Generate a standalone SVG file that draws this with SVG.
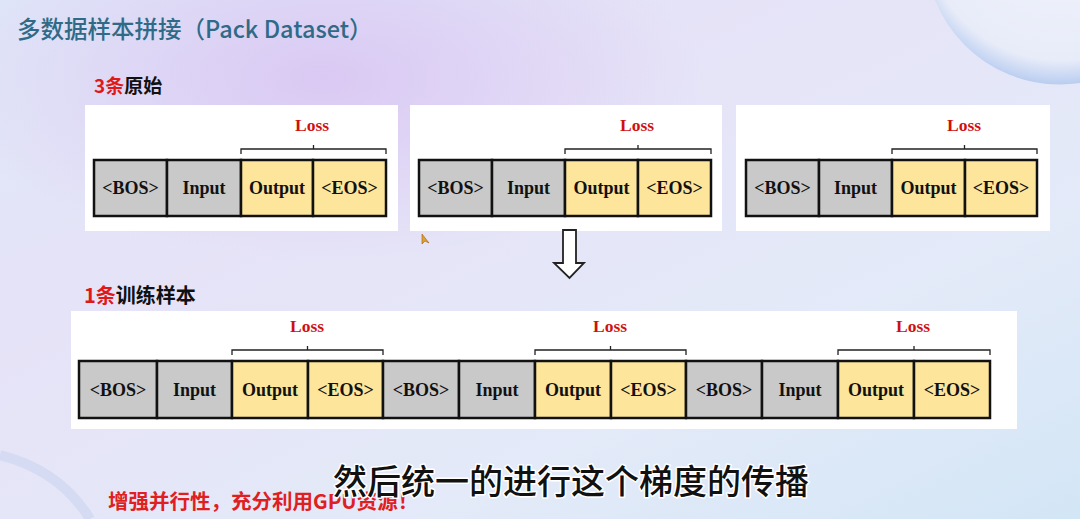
<svg xmlns="http://www.w3.org/2000/svg" width="1080" height="519" viewBox="0 0 1080 519">
<defs>
<linearGradient id="bg" x1="0" y1="0" x2="1" y2="1">
<stop offset="0" stop-color="#dfe6f8"/>
<stop offset="0.35" stop-color="#e6e3f7"/>
<stop offset="0.7" stop-color="#e3eaf8"/>
<stop offset="1" stop-color="#d3e6f6"/>
</linearGradient>
<radialGradient id="pink" cx="0.3" cy="0.15" r="0.35">
<stop offset="0" stop-color="#d9c6f3" stop-opacity="0.9"/>
<stop offset="1" stop-color="#d9c6f3" stop-opacity="0"/>
</radialGradient>
<radialGradient id="bubble" cx="0.5" cy="0.4" r="0.6">
<stop offset="0" stop-color="#f2f4fc"/>
<stop offset="0.85" stop-color="#e8ecf9"/>
<stop offset="1" stop-color="#b9cdf0"/>
</radialGradient>
<style>
.panel{fill:#ffffff}
.cell{stroke:#111;stroke-width:2.5}
.g{fill:#c9c9c9}
.y{fill:#fde59c}
.t{font-family:"Liberation Serif",serif;font-weight:bold;font-size:18px;fill:#111;text-anchor:middle}
.loss{font-family:"Liberation Serif",serif;font-weight:bold;font-size:17.5px;fill:#d01010;text-anchor:middle}
.br{fill:none;stroke:#222;stroke-width:1.3}
.cjk{font-family:"Noto Sans CJK SC","Noto Sans",sans-serif}
</style>
</defs>
<rect width="1080" height="519" fill="url(#bg)"/>
<rect width="1080" height="519" fill="url(#pink)"/>
<circle cx="1060" cy="-50" r="134.6" fill="url(#bubble)"/>
<path d="M0,455 Q60,470 90,519" fill="none" stroke="#c9d3ee" stroke-width="10" opacity="0.6"/>

<text x="17" y="38" class="cjk" font-size="23.5" font-weight="500" fill="#2f6b86">多数据样本拼接（Pack Dataset）</text>
<text x="94" y="93" class="cjk" font-size="19" font-weight="bold"><tspan fill="#e01818">3条</tspan><tspan fill="#111">原始</tspan></text>
<text x="84" y="303" class="cjk" font-size="20" font-weight="bold"><tspan fill="#e01818">1条</tspan><tspan fill="#111">训练样本</tspan></text>

<g id="sample1">
<rect class="panel" x="85" y="105" width="313" height="126"/>
<rect class="cell g" x="94" y="160" width="73" height="56"/>
<rect class="cell g" x="167" y="160" width="74" height="56"/>
<rect class="cell y" x="241" y="160" width="72" height="56"/>
<rect class="cell y" x="313" y="160" width="73" height="56"/>
<text class="t" x="130.5" y="194">&lt;BOS&gt;</text>
<text class="t" x="204" y="194">Input</text>
<text class="t" x="277" y="194">Output</text>
<text class="t" x="349.5" y="194">&lt;EOS&gt;</text>
<path class="br" d="M241,154 V149 H386 V154 M313.5,149 V145"/>
<text class="loss" x="312" y="131">Loss</text>
</g>
<g id="sample2">
<rect class="panel" x="410" y="105" width="312" height="126"/>
<rect class="cell g" x="419" y="160" width="73" height="56"/>
<rect class="cell g" x="492" y="160" width="73" height="56"/>
<rect class="cell y" x="565" y="160" width="73" height="56"/>
<rect class="cell y" x="638" y="160" width="73" height="56"/>
<text class="t" x="455.5" y="194">&lt;BOS&gt;</text>
<text class="t" x="528.5" y="194">Input</text>
<text class="t" x="601.5" y="194">Output</text>
<text class="t" x="674.5" y="194">&lt;EOS&gt;</text>
<path class="br" d="M565,154 V149 H711 V154 M638,149 V145"/>
<text class="loss" x="637" y="131">Loss</text>
</g>
<g id="sample3">
<rect class="panel" x="736" y="105" width="314" height="126"/>
<rect class="cell g" x="746" y="160" width="73" height="56"/>
<rect class="cell g" x="819" y="160" width="73" height="56"/>
<rect class="cell y" x="892" y="160" width="73" height="56"/>
<rect class="cell y" x="965" y="160" width="72" height="56"/>
<text class="t" x="782.5" y="194">&lt;BOS&gt;</text>
<text class="t" x="855.5" y="194">Input</text>
<text class="t" x="928.5" y="194">Output</text>
<text class="t" x="1001" y="194">&lt;EOS&gt;</text>
<path class="br" d="M892,154 V149 H1037 V154 M964.5,149 V145"/>
<text class="loss" x="964" y="131">Loss</text>
</g>

<g id="connectors">
<path d="M563,230 H576 V263 H584 L569.5,278 L554,263 H563 Z" fill="#ffffff" stroke="#222" stroke-width="1.8" stroke-linejoin="miter"/>
</g>
<path d="M422,234 L422,244 L425,241 L429,243 Z" fill="#e0a030" stroke="#a06010" stroke-width="0.6"/>

<g id="packed">
<rect class="panel" x="71" y="311" width="946" height="118"/>
<rect class="cell g" x="79" y="361" width="78" height="57"/>
<rect class="cell g" x="157" y="361" width="75" height="57"/>
<rect class="cell y" x="232" y="361" width="76" height="57"/>
<rect class="cell y" x="308" y="361" width="75" height="57"/>
<rect class="cell g" x="383" y="361" width="76" height="57"/>
<rect class="cell g" x="459" y="361" width="76" height="57"/>
<rect class="cell y" x="535" y="361" width="76" height="57"/>
<rect class="cell y" x="611" y="361" width="75" height="57"/>
<rect class="cell g" x="686" y="361" width="76" height="57"/>
<rect class="cell g" x="762" y="361" width="76" height="57"/>
<rect class="cell y" x="838" y="361" width="76" height="57"/>
<rect class="cell y" x="914" y="361" width="76" height="57"/>
<text class="t" x="118" y="396">&lt;BOS&gt;</text>
<text class="t" x="194.5" y="396">Input</text>
<text class="t" x="270" y="396">Output</text>
<text class="t" x="345.5" y="396">&lt;EOS&gt;</text>
<text class="t" x="421" y="396">&lt;BOS&gt;</text>
<text class="t" x="497" y="396">Input</text>
<text class="t" x="573" y="396">Output</text>
<text class="t" x="648.5" y="396">&lt;EOS&gt;</text>
<text class="t" x="724" y="396">&lt;BOS&gt;</text>
<text class="t" x="800" y="396">Input</text>
<text class="t" x="876" y="396">Output</text>
<text class="t" x="952" y="396">&lt;EOS&gt;</text>
<path class="br" d="M232,355 V350 H383 V355 M307.5,350 V346"/>
<path class="br" d="M535,355 V350 H686 V355 M610.5,350 V346"/>
<path class="br" d="M838,355 V350 H990 V355 M914,350 V346"/>
<text class="loss" x="307" y="332">Loss</text>
<text class="loss" x="610" y="332">Loss</text>
<text class="loss" x="913" y="332">Loss</text>
</g>

<text x="108" y="509" class="cjk" font-size="20.5" font-weight="bold" fill="#e02020">增强并行性，充分利用GPU资源！</text>
<text x="333" y="494" class="cjk" font-size="34" font-weight="500" fill="#111" stroke="#ffffff" stroke-width="3" paint-order="stroke" stroke-linejoin="round">然后统一的进行这个梯度的传播</text>
</svg>
